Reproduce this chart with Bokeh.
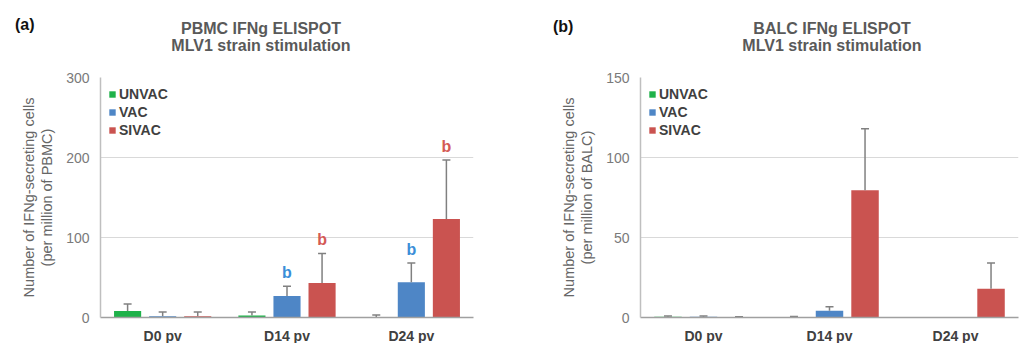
from bokeh.plotting import figure
from bokeh.models import (FactorRange, Range1d, FixedTicker, LinearAxis, Div,
                          ColumnDataSource, Whisker, TeeHead)
from bokeh.transform import dodge
from bokeh.layouts import row, column
from bokeh.core.properties import value
from bokeh.embed import file_html
from bokeh.resources import INLINE

# ---------------- data ----------------
days = ["D0 pv", "D14 pv", "D24 pv"]
groups = ["UNVAC", "VAC", "SIVAC"]

pbmc_unvac = [8, 2.5, 0.5]
pbmc_vac = [1.5, 27, 44]
pbmc_sivac = [1.5, 43, 123]
pbmc_unvac_err = [9, 4.5, 2.5]
pbmc_vac_err = [5.5, 12, 24]
pbmc_sivac_err = [5.5, 37, 74]
pbmc_unvac_sig = ["", "", ""]
pbmc_vac_sig = ["", "b", "b"]
pbmc_sivac_sig = ["", "b", "b"]
pbmc_ticks = [0, 100, 200, 300]

balc_unvac = [0.5, 0.3, 0]
balc_vac = [0.5, 4.2, 0]
balc_sivac = [0.3, 79.5, 18]
balc_unvac_err = [0.5, 0.3, 0]
balc_vac_err = [0.5, 2.5, 0]
balc_sivac_err = [0.2, 38.5, 16]
balc_sig = ["", "", ""]
balc_ticks = [0, 50, 100, 150]

# ---------------- styles ----------------
FONT = "Liberation Sans"
bar_colors = ["#1fb24a", "#4e86c6", "#ca5350"]
sig_colors = ["#1fb24a", "#3b8ed8", "#d45a55"]
offsets = [-0.282, 0.0, 0.282]
BAR_W = 0.218
ERR_COL = "#808080"
TITLE_COL = "#595959"
HEADER_H = 64


def header(tag, t1, t2, width, title_cx, tag_x, tag_y):
    base = ("position:absolute;font-family:'Liberation Sans',Arial,sans-serif;"
            "font-weight:bold;font-size:16px;line-height:18px;white-space:nowrap;")
    html = (
        f'<div style="position:relative;width:{width}px;height:{HEADER_H}px;margin:0;padding:0;">'
        f'<div style="{base}left:{tag_x}px;top:{tag_y - 9}px;color:#111111;">{tag}</div>'
        f'<div style="{base}left:{title_cx - 150}px;width:300px;text-align:center;'
        f'top:{29 - 9}px;color:{TITLE_COL};">{t1}</div>'
        f'<div style="{base}left:{title_cx - 150}px;width:300px;text-align:center;'
        f'top:{46 - 9}px;color:{TITLE_COL};">{t2}</div>'
        '</div>'
    )
    return Div(text=html, width=width, height=HEADER_H,
               styles={"margin": "0", "padding": "0"})


def make_panel(ylab2, means, errs, sigs, ticks, min_left, frame_w, min_right):
    p = figure(x_range=FactorRange(*days), y_range=Range1d(0, ticks[-1]),
               frame_width=frame_w, frame_height=240,
               min_border_left=min_left, min_border_right=min_right,
               min_border_top=13, min_border_bottom=26,
               output_backend="svg", toolbar_location=None, title=None,
               background_fill_color="white", border_fill_color="white")
    p.outline_line_color = None
    ymax = ticks[-1]

    for i, g in enumerate(groups):
        src = ColumnDataSource(dict(x=days, top=means[i]))
        p.vbar(x=dodge("x", offsets[i], range=p.x_range), top="top", width=BAR_W,
               source=src, fill_color=bar_colors[i], line_color=None,
               legend_label=g)
        wx = [d for d, e in zip(days, errs[i]) if e > 0]
        wl = [m for m, e in zip(means[i], errs[i]) if e > 0]
        wu = [m + e for m, e in zip(means[i], errs[i]) if e > 0]
        wsrc = ColumnDataSource(dict(x=wx, lower=wl, upper=wu))
        p.add_layout(Whisker(base=dodge("x", offsets[i], range=p.x_range),
                             lower="lower", upper="upper", source=wsrc,
                             line_color=ERR_COL, line_width=1.5,
                             upper_head=TeeHead(size=8, line_color=ERR_COL, line_width=1.5),
                             lower_head=None, level="glyph"))
        sx = [d for d, s in zip(days, sigs[i]) if s]
        sy = [m + e + ymax * 0.057 for m, e, s in zip(means[i], errs[i], sigs[i]) if s]
        st = [s for s in sigs[i] if s]
        if st:
            ssrc = ColumnDataSource(dict(x=sx, y=sy, t=st))
            p.text(x=dodge("x", offsets[i], range=p.x_range), y="y", text="t",
                   source=ssrc, text_color=sig_colors[i], text_font=value(FONT),
                   text_font_style="bold", text_font_size="16px",
                   text_align="center", text_baseline="alphabetic")

    # axes
    yax = p.yaxis[0]
    yax.ticker = FixedTicker(ticks=ticks)
    yax.axis_label = ylab2
    yax.axis_label_text_font = FONT
    yax.axis_label_text_font_style = "normal"
    yax.axis_label_text_font_size = "14.5px"
    yax.axis_label_text_color = "#666666"
    yax.axis_label_standoff = 8
    yax.major_label_text_font = FONT
    yax.major_label_text_font_size = "14px"
    yax.major_label_text_color = "#7a7a7a"
    yax.major_label_standoff = 5
    yax.major_tick_line_color = None
    yax.minor_tick_line_color = None
    yax.axis_line_color = "#bfbfbf"
    yax.axis_line_width = 1.5

    extra = LinearAxis(ticker=FixedTicker(ticks=[]),
                       axis_label="Number of IFNg-secreting cells",
                       axis_label_text_font=FONT, axis_label_text_font_style="normal",
                       axis_label_text_font_size="14.5px", axis_label_text_color="#666666",
                       axis_label_standoff=0, axis_line_color=None,
                       major_tick_line_color=None, minor_tick_line_color=None,
                       major_label_standoff=0)
    p.add_layout(extra, "left")

    xax = p.xaxis[0]
    xax.major_label_text_font = FONT
    xax.major_label_text_font_style = "bold"
    xax.major_label_text_font_size = "14px"
    xax.major_label_text_color = "#404040"
    xax.major_label_standoff = 4
    xax.major_tick_line_color = None
    xax.minor_tick_line_color = None
    xax.axis_line_color = "#a0a0a0"
    xax.axis_line_width = 1.5

    p.xgrid.grid_line_color = None
    p.ygrid.grid_line_color = "#d9d9d9"
    p.ygrid.grid_line_width = 1.2
    p.ygrid.ticker = FixedTicker(ticks=ticks)

    lg = p.legend[0]
    lg.location = "top_left"
    lg.margin = 8
    lg.padding = 5
    lg.spacing = 1
    lg.glyph_width = 8
    lg.glyph_height = 8
    lg.label_height = 17
    lg.label_standoff = 3
    lg.label_text_font = FONT
    lg.label_text_font_style = "bold"
    lg.label_text_font_size = "14px"
    lg.label_text_color = "#404040"
    lg.border_line_color = None
    lg.background_fill_alpha = 0
    return p


pa = make_panel("(per million of PBMC)",
                [pbmc_unvac, pbmc_vac, pbmc_sivac],
                [pbmc_unvac_err, pbmc_vac_err, pbmc_sivac_err],
                [pbmc_unvac_sig, pbmc_vac_sig, pbmc_sivac_sig],
                pbmc_ticks, 100, 373, 37)

pb = make_panel("(per million of BALC)",
                [balc_unvac, balc_vac, balc_sivac],
                [balc_unvac_err, balc_vac_err, balc_sivac_err],
                [balc_sig, balc_sig, balc_sig],
                balc_ticks, 130, 378, 2)

ha = header("(a)", "PBMC IFNg ELISPOT", "MLV1 strain stimulation", 510, 261, 15, 25)
hb = header("(b)", "BALC IFNg ELISPOT", "MLV1 strain stimulation", 510, 322, 43, 27)

layout = column(row(ha, hb), row(pa, pb))
open("out.html", "w").write(file_html(layout, INLINE))
